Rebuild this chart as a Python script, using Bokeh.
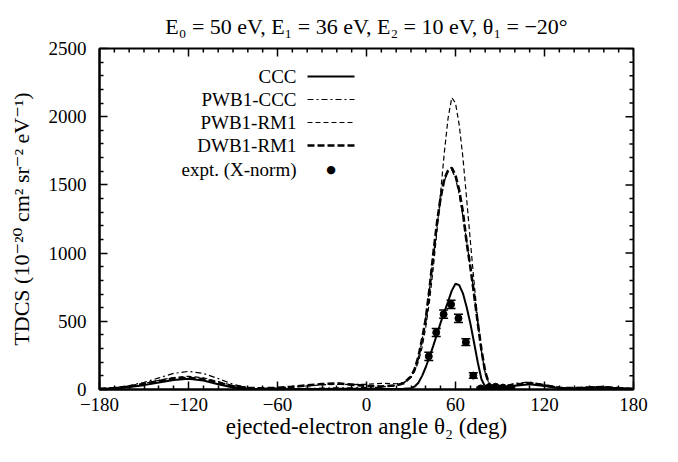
import math
from bokeh.plotting import figure
from bokeh.models import (Range1d, Whisker, ColumnDataSource, Label,
                          Arrow, FixedTicker, TeeHead)
from bokeh.embed import file_html
from bokeh.resources import INLINE

# ---------------- data ----------------
theta = [-180, -170, -160, -150, -140, -130, -120, -110, -100, -90, -80, -70, -60, -50,
         -40, -30, -20, -10, 0, 10, 20,
         25, 30, 32.5, 35, 37.5, 40, 42.5, 45, 47.5, 50, 52.5, 55, 57.5, 60, 62.5, 65,
         67.5, 70, 72.5, 75, 77.5, 80, 82.5, 85,
         90, 100, 110, 120, 130, 140, 150, 160, 170, 180]

ccc = [4, 8, 18, 32, 52, 70, 78, 66, 38, 14, 5, 3, 3, 3,
       3, 4, 5, 5, 5, 4, 4,
       5, 10, 22, 50, 100, 165, 240, 320, 405, 490, 570, 645, 725, 775, 765, 705,
       605, 485, 345, 200, 75, 20, 8, 6,
       10, 28, 38, 25, 10, 7, 12, 15, 10, 4]

pwb1_ccc = [5, 12, 28, 52, 85, 118, 133, 118, 80, 38, 14, 6, 5, 6,
            8, 10, 12, 12, 14, 18, 30,
            45, 95, 150, 235, 360, 530, 740, 970, 1200, 1390, 1530, 1600, 1610, 1550,
            1430, 1270, 1090, 900, 700, 485, 280, 125, 45, 20,
            18, 45, 55, 35, 15, 10, 15, 20, 12, 5]

pwb1_rm1 = [5, 11, 24, 44, 68, 88, 97, 86, 58, 28, 12, 9, 12, 18,
            26, 34, 38, 36, 38, 45, 42,
            50, 90, 135, 205, 310, 460, 650, 890, 1160, 1450, 1740, 1990, 2140, 2100,
            1940, 1700, 1400, 1090, 790, 510, 280, 120, 45, 20,
            12, 30, 42, 30, 12, 10, 18, 20, 12, 5]

dwb1_rm1 = [5, 10, 22, 40, 62, 80, 86, 76, 50, 24, 11, 9, 12, 20,
            30, 40, 45, 36, 26, 22, 30,
            45, 95, 150, 240, 370, 520, 740, 990, 1220, 1410, 1545, 1605, 1625, 1570,
            1460, 1300, 1080, 900, 700, 490, 290, 130, 45, 20,
            14, 35, 48, 32, 12, 10, 15, 18, 10, 5]

expt_theta = [42, 47, 52, 57, 62, 67, 72, 77, 82, 87, 92, 97]
expt_val = [243, 418, 552, 624, 522, 347, 102, 8, 12, 20, 14, 10]
expt_err = [30, 30, 30, 30, 30, 25, 20, 8, 8, 10, 8, 8]

x_ticks = [-180, -120, -60, 0, 60, 120, 180]
x_minor = [t for t in range(-180, 181, 10) if t not in x_ticks]
y_ticks = [0, 500, 1000, 1500, 2000, 2500]
y_minor = [t for t in range(0, 2501, 100) if t not in y_ticks]

legend_labels = ["CCC", "PWB1-CCC", "PWB1-RM1", "DWB1-RM1", "expt. (X-norm)"]
title_text = "E\u2080 = 50 eV, E\u2081 = 36 eV, E\u2082 = 10 eV, \u03b8\u2081 = \u221220\u00b0"
xlabel_text = "ejected-electron angle \u03b8\u2082 (deg)"
ylabel_text = "TDCS (10\u207b\u00b2\u2070 cm\u00b2 sr\u207b\u00b2 eV\u207b\u00b9)"

# ---------------- figure ----------------
SERIF = "Liberation Serif, DejaVu Serif"
X0, X1 = -180, 180
Y0, Y1 = 0, 2500

p = figure(width=662, height=446, output_backend="svg", toolbar_location=None,
           x_range=Range1d(X0, X1), y_range=Range1d(Y0, Y1),
           min_border_left=99, min_border_right=29, min_border_top=48,
           min_border_bottom=57)

p.title.text = title_text
p.title.text_font = SERIF
p.title.text_font_size = "22px"
p.title.text_font_style = "normal"
p.title.align = "center"
p.title.text_color = "black"
p.title.standoff = 19

p.xgrid.grid_line_color = None
p.ygrid.grid_line_color = None
p.outline_line_color = "black"
p.outline_line_width = 2
p.background_fill_color = "white"
p.border_fill_color = "white"

for ax in (p.xaxis[0], p.yaxis[0]):
    ax.axis_line_color = "black"
    ax.axis_line_width = 2
    ax.major_tick_in = 8
    ax.major_tick_out = 0
    ax.minor_tick_in = 4
    ax.minor_tick_out = 0
    ax.major_tick_line_width = 1.5
    ax.minor_tick_line_width = 1.5
    ax.major_tick_line_color = "black"
    ax.minor_tick_line_color = "black"
    ax.major_label_text_font = SERIF
    ax.major_label_text_font_size = "19px"
    ax.major_label_text_color = "black"
    ax.axis_label_text_font = SERIF
    ax.axis_label_text_font_style = "normal"
    ax.axis_label_text_color = "black"

p.xaxis.ticker = FixedTicker(ticks=x_ticks, minor_ticks=x_minor)
p.yaxis.ticker = FixedTicker(ticks=y_ticks, minor_ticks=y_minor)
p.xaxis.major_label_standoff = 8
p.yaxis.major_label_standoff = 13
p.xaxis.axis_label = xlabel_text
p.xaxis.axis_label_text_font_size = "23px"
p.xaxis.axis_label_standoff = 0
p.yaxis.axis_label = ylabel_text
p.yaxis.axis_label_text_font_size = "22px"
p.yaxis.axis_label_standoff = 12

# mirror ticks on top and right edges (inward), drawn as clipped dash markers
p.scatter(x_ticks, [Y1] * len(x_ticks), marker="dash", angle=math.pi / 2, size=16,
          line_color="black", line_width=1.5)
p.scatter(x_minor, [Y1] * len(x_minor), marker="dash", angle=math.pi / 2, size=8,
          line_color="black", line_width=1.5)
p.scatter([X1] * len(y_ticks), y_ticks, marker="dash", size=16,
          line_color="black", line_width=1.5)
p.scatter([X1] * len(y_minor), y_minor, marker="dash", size=8,
          line_color="black", line_width=1.5)

# ---------------- curves ----------------
styles = [
    (ccc, dict(line_width=2.0, line_dash="solid")),
    (pwb1_ccc, dict(line_width=1.2, line_dash="6 3 2 3")),
    (pwb1_rm1, dict(line_width=1.2, line_dash="5 3")),
    (dwb1_rm1, dict(line_width=2.6, line_dash="7 3")),
]
for vals, st in styles:
    p.line(theta, vals, line_color="black", **st)

src = ColumnDataSource(dict(x=expt_theta, y=expt_val,
                            lo=[v - e for v, e in zip(expt_val, expt_err)],
                            hi=[v + e for v, e in zip(expt_val, expt_err)]))
wh = Whisker(source=src, base="x", lower="lo", upper="hi", dimension="height",
             line_color="black", line_width=1.5,
             upper_head=TeeHead(size=9, line_color="black", line_width=1.5),
             lower_head=TeeHead(size=9, line_color="black", line_width=1.5))
p.add_layout(wh)
p.scatter("x", "y", source=src, size=7, color="black")

# ---------------- legend (gnuplot style: text right-aligned, sample after) ----------------
row_y = [313, 290, 267, 244, 220]
text_right = 197
samp_x0, samp_x1 = 208, 255
for i, lab in enumerate(legend_labels):
    p.add_layout(Label(x=text_right, y=row_y[i], x_units="screen", y_units="screen",
                       text=lab, text_align="right", text_baseline="middle",
                       text_font=SERIF, text_font_size="19px", text_color="black"))
for i, (vals, st) in enumerate(styles):
    p.add_layout(Arrow(x_start=samp_x0, y_start=row_y[i], x_end=samp_x1, y_end=row_y[i],
                       start_units="screen", end_units="screen", start=None, end=None,
                       line_color="black", **st))
p.add_layout(Label(x=(samp_x0 + samp_x1) / 2, y=row_y[4], x_units="screen", y_units="screen",
                   text="\u25cf", text_align="center", text_baseline="middle",
                   text_font="DejaVu Sans", text_font_size="11px", text_color="black"))

open("out.html", "w").write(file_html(p, INLINE))
